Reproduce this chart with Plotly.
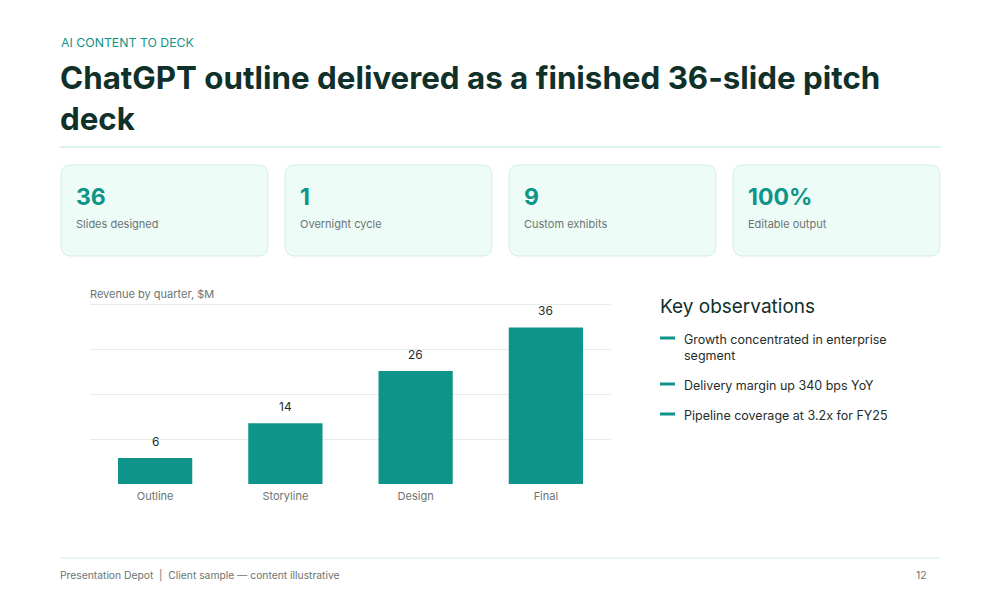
import plotly.graph_objects as go

categories = ["Outline", "Storyline", "Design", "Final"]
revenue = [6, 14, 26, 36]
kpi_values = ["36", "1", "9", "100%"]
kpi_labels = ["Slides designed", "Overnight cycle", "Custom exhibits", "Editable output"]
observations = ["Growth concentrated in enterprise<br>segment", "Delivery margin up 340 bps YoY", "Pipeline coverage at 3.2x for FY25"]

W, H = 1000, 600
TEAL = "#0e9488"
DARK = "#10302a"
GRAY = "#6b7472"
FONT = "Inter"

def px(x):
    return x / W

def py(y):
    return 1 - y / H

fig = go.Figure()
fig.add_trace(go.Bar(
    x=categories, y=revenue, marker=dict(color=TEAL, line=dict(width=0)),
    hoverinfo="skip",
))

ymax = 41.4
ytop = 42.0
unit_px = 180 / ymax
fig.update_layout(
    width=W, height=H, margin=dict(l=0, r=0, t=0, b=0),
    paper_bgcolor="white", plot_bgcolor="white", showlegend=False,
    bargap=0.43,
    xaxis=dict(domain=[px(90), px(611)], showgrid=False, zeroline=False, showline=False,
               ticks="", tickfont=dict(family=FONT, size=11, color=GRAY), ticklabelstandoff=4),
    yaxis=dict(domain=[py(484), py(484 - ytop * unit_px)], range=[0, ytop],
               tickvals=[i * ymax / 4 for i in range(5)],
               showticklabels=False, gridcolor="#e6ecea", gridwidth=1, zeroline=False, showline=False),
    font=dict(family=FONT),
)

shapes = []
annotations = []

# value labels above bars (data coordinates)
for c, v in zip(categories, revenue):
    annotations.append(dict(xref="x", yref="y", x=c, y=v, text=str(v), showarrow=False,
                            yanchor="bottom", yshift=7, font=dict(family=FONT, size=12, color="#1f2d2a")))

def rrect(x0, y0, x1, y1, r):
    rx, ry = r / W, r / H
    X0, X1 = px(x0), px(x1)
    Y0, Y1 = py(y0), py(y1)
    return (f"M {X0+rx},{Y0} L {X1-rx},{Y0} Q {X1},{Y0} {X1},{Y0-ry} "
            f"L {X1},{Y1+ry} Q {X1},{Y1} {X1-rx},{Y1} L {X0+rx},{Y1} "
            f"Q {X0},{Y1} {X0},{Y1+ry} L {X0},{Y0-ry} Q {X0},{Y0} {X0+rx},{Y0} Z")

# header
annotations.append(dict(x=px(59), y=py(43), text="AI CONTENT TO DECK", showarrow=False,
                        xanchor="left", yanchor="middle", font=dict(family=FONT, size=12.3, color=TEAL)))
annotations.append(dict(x=px(58), y=py(98), text="<b>ChatGPT outline delivered as a finished 36-slide pitch<br>deck</b>",
                        showarrow=False, xanchor="left", yanchor="middle", align="left",
                        font=dict(family=FONT, size=31.3, color=DARK)))
shapes.append(dict(type="line", xref="paper", yref="paper", x0=px(60), x1=px(941), y0=py(147), y1=py(147),
                   line=dict(color="#cfeee7", width=1.5)))

# KPI cards
card_x = [61, 285, 509, 733]
for cx, v, lab in zip(card_x, kpi_values, kpi_labels):
    shapes.append(dict(type="path", xref="paper", yref="paper", path=rrect(cx, 165, cx + 207, 256, 10),
                       fillcolor="#eefcf8", line=dict(color="#d3eee7", width=1)))
    annotations.append(dict(x=px(cx + 13), y=py(197), text=f"<b>{v}</b>", showarrow=False, xanchor="left",
                            yanchor="middle", font=dict(family=FONT, size=23, color=TEAL)))
    annotations.append(dict(x=px(cx + 13), y=py(224), text=lab, showarrow=False, xanchor="left",
                            yanchor="middle", font=dict(family=FONT, size=11, color=GRAY)))

# chart caption
annotations.append(dict(x=px(88), y=py(294), text="Revenue by quarter, $M", showarrow=False, xanchor="left",
                        yanchor="middle", font=dict(family=FONT, size=11, color=GRAY)))

# key observations
annotations.append(dict(x=px(658), y=py(306), text="Key observations", showarrow=False, xanchor="left",
                        yanchor="middle", font=dict(family=FONT, size=19, color=DARK)))
obs_y = [338, 384, 414]
for oy, t in zip(obs_y, observations):
    shapes.append(dict(type="line", xref="paper", yref="paper", x0=px(660), x1=px(675), y0=py(oy), y1=py(oy),
                       line=dict(color=TEAL, width=3)))
    annotations.append(dict(x=px(682), y=py(oy - 8.5), text=t, showarrow=False, xanchor="left", yanchor="top",
                            align="left", font=dict(family=FONT, size=12.5, color="#1f2d2a")))

# footer
shapes.append(dict(type="line", xref="paper", yref="paper", x0=px(60), x1=px(941), y0=py(558), y1=py(558),
                   line=dict(color="#d6efe9", width=1)))
annotations.append(dict(x=px(58), y=py(575), text="Presentation Depot  |  Client sample — content illustrative",
                        showarrow=False, xanchor="left", yanchor="middle", font=dict(family=FONT, size=10.3, color=GRAY)))
annotations.append(dict(x=px(929), y=py(575), text="12", showarrow=False, xanchor="right", yanchor="middle",
                        font=dict(family=FONT, size=10.5, color=GRAY)))

for a in annotations:
    a.setdefault("xref", "paper")
    a.setdefault("yref", "paper")

fig.update_layout(shapes=shapes, annotations=annotations)
fig.write_html("out.html")
